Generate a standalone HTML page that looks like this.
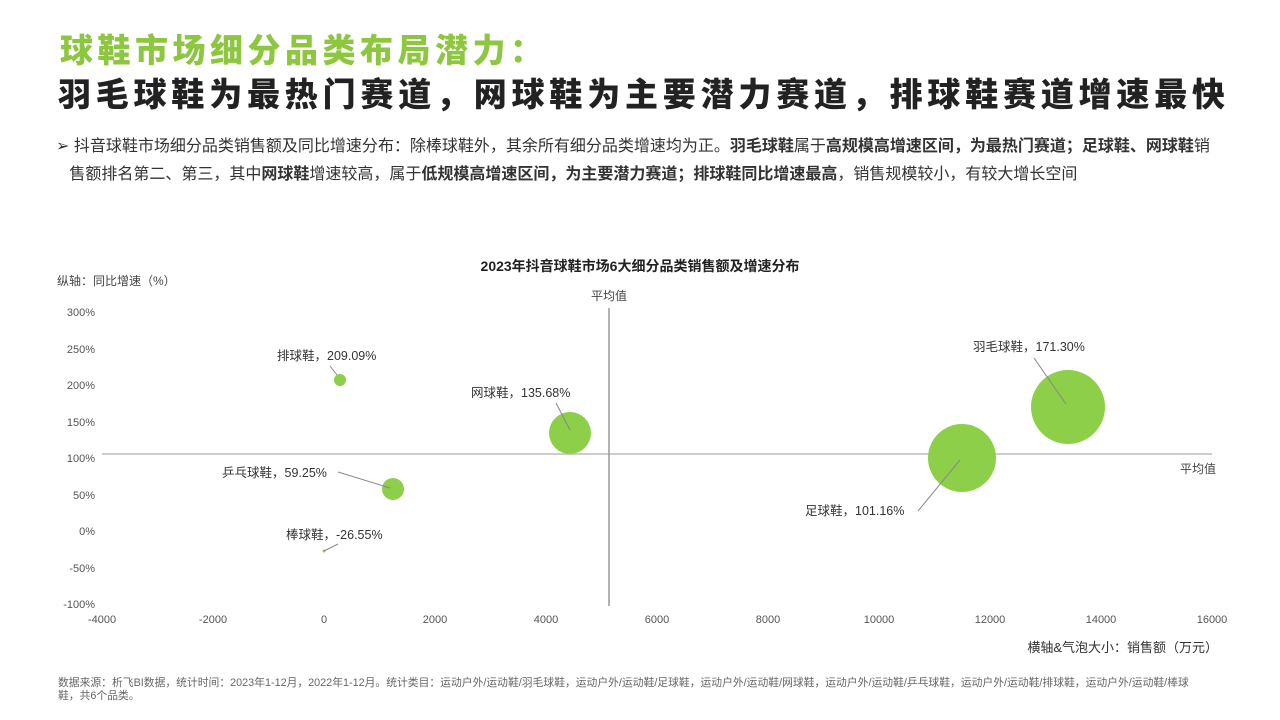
<!DOCTYPE html>
<html><head><meta charset="utf-8"><style>
body{margin:0;width:1280px;height:720px;background:#fff;font-family:"Liberation Sans","Noto Sans CJK SC",sans-serif;position:relative;overflow:hidden}
.a{position:absolute;white-space:nowrap}
</style></head><body>
<div class="a" style="left:60px;top:24px;font-size:33px;font-weight:900;color:#8dc63f;letter-spacing:4.5px">球鞋市场细分品类布局潜力：</div>
<div class="a" style="left:58px;top:68px;font-size:33px;font-weight:900;color:#222;letter-spacing:4.8px">羽毛球鞋为最热门赛道，网球鞋为主要潜力赛道，排球鞋赛道增速最快</div>
<div class="a" style="left:56px;top:133px;font-size:16px;color:#333;line-height:28px">➢ 抖音球鞋市场细分品类销售额及同比增速分布：除棒球鞋外，其余所有细分品类增速均为正。<b>羽毛球鞋</b>属于<b>高规模高增速区间，为最热门赛道；足球鞋、网球鞋</b>销<br>&nbsp;&nbsp;&nbsp;售额排名第二、第三，其中<b>网球鞋</b>增速较高，属于<b>低规模高增速区间，为主要潜力赛道；排球鞋同比增速最高</b>，销售规模较小，有较大增长空间</div>
<svg class="a" style="left:0;top:0" width="1280" height="720" font-family="Liberation Sans, Noto Sans CJK SC, sans-serif">
<text x="640" y="271" font-size="14" font-weight="bold" text-anchor="middle" fill="#222">2023年抖音球鞋市场6大细分品类销售额及增速分布</text>
<text x="57" y="285" font-size="12" fill="#444">纵轴：同比增速（%）</text>
<g font-size="11" fill="#555" text-anchor="end">
<text x="95" y="316">300%</text><text x="95" y="353">250%</text><text x="95" y="389">200%</text><text x="95" y="426">150%</text><text x="95" y="462">100%</text><text x="95" y="499">50%</text><text x="95" y="535">0%</text><text x="95" y="572">-50%</text><text x="95" y="608">-100%</text>
</g>
<g font-size="11" fill="#555" text-anchor="middle">
<text x="102" y="623">-4000</text><text x="213" y="623">-2000</text><text x="324" y="623">0</text><text x="435" y="623">2000</text><text x="546" y="623">4000</text><text x="657" y="623">6000</text><text x="768" y="623">8000</text><text x="879" y="623">10000</text><text x="990" y="623">12000</text><text x="1101" y="623">14000</text><text x="1212" y="623">16000</text>
</g>
<line x1="102" y1="454" x2="1212" y2="454" stroke="#bbb" stroke-width="1.5"/>
<line x1="609" y1="308" x2="609" y2="606" stroke="#999" stroke-width="1.5"/>
<text x="609" y="300" font-size="12" fill="#444" text-anchor="middle">平均值</text>
<text x="1198" y="473" font-size="12" fill="#444" text-anchor="middle">平均值</text>
<text x="1218" y="652" font-size="13" fill="#333" text-anchor="end">横轴&amp;气泡大小：销售额（万元）</text>
<g fill="#8dcf48">
<circle cx="340" cy="380" r="6"/><circle cx="393" cy="489" r="11"/><circle cx="324" cy="551" r="1.5"/>
<circle cx="570" cy="433" r="21"/><circle cx="962" cy="458" r="34"/><circle cx="1068" cy="407" r="37"/>
</g>
<g stroke="#888" stroke-width="1" fill="none">
<line x1="330" y1="366" x2="337" y2="375"/><line x1="338" y1="472" x2="390" y2="488"/><line x1="324" y1="551" x2="338" y2="544"/>
<line x1="556" y1="403" x2="570" y2="430"/><line x1="918" y1="511" x2="960" y2="460"/><line x1="1034" y1="358" x2="1066" y2="404"/>
</g>
<g font-size="12.5" fill="#333">
<text x="277" y="360">排球鞋，209.09%</text><text x="222" y="477">乒乓球鞋，59.25%</text><text x="286" y="539">棒球鞋，-26.55%</text>
<text x="471" y="397">网球鞋，135.68%</text><text x="805" y="515">足球鞋，101.16%</text><text x="973" y="351">羽毛球鞋，171.30%</text>
</g>
<text x="58" y="686" font-size="10.8" fill="#666">数据来源：析飞BI数据，统计时间：2023年1-12月，2022年1-12月。统计类目：运动户外/运动鞋/羽毛球鞋，运动户外/运动鞋/足球鞋，运动户外/运动鞋/网球鞋，运动户外/运动鞋/乒乓球鞋，运动户外/运动鞋/排球鞋，运动户外/运动鞋/棒球</text>
<text x="58" y="699" font-size="10.8" fill="#666">鞋，共6个品类。</text>
</svg>
</body></html>
